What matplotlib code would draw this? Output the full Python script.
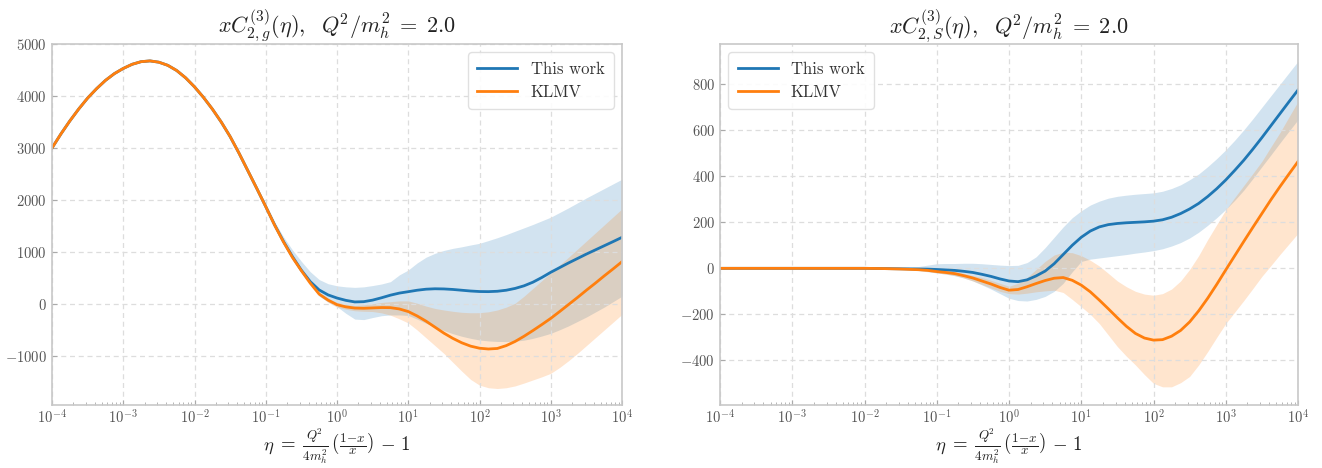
import numpy as np
import matplotlib
matplotlib.use("Agg")
import matplotlib.pyplot as plt
from matplotlib.ticker import FixedLocator, NullFormatter, LogFormatterSciNotation

plt.rcParams.update({
    "font.family": "serif",
    "font.serif": ["cmr10", "DejaVu Serif"],
    "mathtext.fontset": "cm",
    "axes.formatter.use_mathtext": True,
    "axes.unicode_minus": True,
})

# log10(eta) sample positions (every 1/8 decade)
log_eta = [-4.0, -3.875, -3.75, -3.625, -3.5, -3.375, -3.25, -3.125,
           -3.0, -2.875, -2.75, -2.625, -2.5, -2.375, -2.25, -2.125,
           -2.0, -1.875, -1.75, -1.625, -1.5, -1.375, -1.25, -1.125,
           -1.0, -0.875, -0.75, -0.625, -0.5, -0.375, -0.25, -0.125,
           0.0, 0.125, 0.25, 0.375, 0.5, 0.625, 0.75, 0.875,
           1.0, 1.125, 1.25, 1.375, 1.5, 1.625, 1.75, 1.875,
           2.0, 2.125, 2.25, 2.375, 2.5, 2.625, 2.75, 2.875,
           3.0, 3.125, 3.25, 3.375, 3.5, 3.625, 3.75, 3.875, 4.0]

# x tick decades
x_decades = [-4, -3, -2, -1, 0, 1, 2, 3, 4]

# ---- left panel: x C_{2,g}^{(3)} ----
g_this = [3000, 3270, 3520, 3750, 3960, 4140, 4300, 4430,
          4530, 4610, 4660, 4675, 4650, 4590, 4490, 4350,
          4176, 3975, 3750, 3500, 3220, 2900, 2560, 2220,
          1873, 1520, 1200, 910, 650, 430, 270, 175,
          115, 70, 40, 45, 75, 120, 170, 210,
          237, 265, 285, 293, 290, 280, 265, 250,
          240, 238, 245, 265, 300, 350, 420, 510,
          610, 700, 790, 875, 960, 1040, 1120, 1200, 1282]
g_this_lo = [2990, 3260, 3510, 3740, 3950, 4130, 4290, 4420,
             4520, 4600, 4650, 4665, 4640, 4580, 4480, 4340,
             4166, 3965, 3740, 3490, 3210, 2885, 2540, 2192,
             1835, 1470, 1140, 850, 600, 380, 150, 40,
             -50, -180, -290, -300, -260, -225, -210, -210,
             -220, -290, -370, -440, -510, -570, -620, -660,
             -692, -710, -720, -722, -715, -695, -660, -615,
             -564, -495, -420, -335, -250, -155, -60, 45, 150]
g_this_hi = [3010, 3280, 3530, 3760, 3970, 4150, 4310, 4440,
             4540, 4620, 4670, 4685, 4660, 4600, 4500, 4360,
             4186, 3985, 3760, 3510, 3230, 2915, 2580, 2250,
             1915, 1580, 1290, 1040, 820, 620, 470, 390,
             350, 330, 320, 330, 355, 385, 430, 560,
             654, 790, 900, 975, 1030, 1070, 1100, 1135,
             1167, 1220, 1275, 1335, 1400, 1465, 1530, 1600,
             1670, 1760, 1850, 1945, 2040, 2130, 2220, 2310, 2400]

g_klmv = [3000, 3270, 3520, 3750, 3960, 4140, 4300, 4430,
          4530, 4610, 4660, 4675, 4650, 4590, 4490, 4350,
          4176, 3975, 3750, 3500, 3220, 2900, 2560, 2220,
          1873, 1515, 1190, 895, 640, 400, 190, 75,
          -13, -55, -78, -82, -75, -68, -70, -95,
          -145, -230, -330, -445, -560, -660, -745, -810,
          -850, -865, -855, -800, -720, -620, -510, -395,
          -276, -145, -10, 125, 265, 400, 540, 675, 814]
g_klmv_lo = [2990, 3260, 3510, 3740, 3950, 4130, 4290, 4420,
             4520, 4600, 4650, 4665, 4640, 4580, 4480, 4340,
             4166, 3965, 3740, 3490, 3210, 2890, 2550, 2208,
             1860, 1500, 1173, 875, 620, 375, 165, 30,
             -60, -100, -130, -140, -145, -170, -215, -285,
             -365, -500, -650, -800, -950, -1120, -1290, -1450,
             -1560, -1610, -1625, -1610, -1575, -1520, -1460, -1400,
             -1333, -1220, -1090, -950, -800, -650, -500, -350, -200]
g_klmv_hi = [3010, 3280, 3530, 3760, 3970, 4150, 4310, 4440,
             4540, 4620, 4670, 4685, 4660, 4600, 4500, 4360,
             4186, 3985, 3760, 3510, 3230, 2910, 2570, 2232,
             1886, 1530, 1207, 915, 660, 425, 215, 110,
             30, -5, -30, -15, 5, 30, 45, 60,
             60, 15, -40, -85, -115, -140, -160, -168,
             -167, -150, -115, -60, 15, 150, 300, 450,
             600, 750, 900, 1055, 1210, 1365, 1520, 1675, 1830]

# ---- right panel: x C_{2,S}^{(3)} ----
s_this = [0, 0, 0, 0, 0, 0, 0, 0,
          0, 0, 0, 0, 0, 0, 0, 0,
          0, -0.5, -1, -1.5, -2, -2.5, -3, -3.5,
          -5, -7, -9, -13, -18, -26, -35, -46,
          -55, -58, -50, -33, -12, 20, 60, 100,
          135, 162, 180, 190, 195, 198, 200, 202,
          205, 211, 222, 238, 258, 282, 312, 346,
          384, 426, 470, 518, 568, 620, 672, 724, 775]
s_this_lo = [-1, -1, -1, -1, -1, -1, -1, -1,
             -1, -1, -1, -1, -1, -1, -1, -1,
             -1, -2, -2.5, -3, -4, -6, -10, -15,
             -20, -25, -32, -42, -55, -72, -90, -110,
             -130, -140, -142, -135, -122, -100, -65, -15,
             30, 40, 45, 50, 55, 60, 66, 71,
             77, 85, 97, 112, 132, 157, 187, 220,
             256, 296, 340, 390, 442, 493, 545, 596, 646]
s_this_hi = [1, 1, 1, 1, 1, 1, 1, 1,
             1, 1, 1, 1, 1, 1, 1, 1,
             1, 1.5, 2, 2.5, 3, 5, 8, 14,
             20, 21, 21, 22, 22, 20, 17, 14,
             12, 13, 25, 50, 90, 135, 180, 220,
             250, 275, 292, 305, 313, 318, 322, 325,
             328, 335, 347, 363, 385, 410, 442, 477,
             515, 557, 602, 650, 700, 750, 800, 850, 900]

s_klmv = [0, 0, 0, 0, 0, 0, 0, 0,
          0, 0, 0, 0, 0, 0, 0, 0,
          0, -0.5, -1, -2, -3, -4.5, -6, -9,
          -14, -18, -23, -32, -42, -55, -68, -83,
          -95, -92, -80, -66, -53, -43, -40, -52,
          -73, -102, -138, -176, -215, -252, -283, -303,
          -312, -310, -295, -270, -233, -185, -130, -70,
          -7, 55, 117, 178, 238, 298, 355, 410, 464]
s_klmv_lo = [-1, -1, -1, -1, -1, -1, -1, -1,
             -1, -1, -1, -1, -1, -1, -1, -1,
             -1, -1.5, -2, -3, -4, -6, -9, -13,
             -20, -25, -32, -42, -55, -70, -85, -100,
             -110, -112, -108, -102, -98, -95, -105, -135,
             -167, -200, -240, -290, -340, -382, -420, -462,
             -500, -515, -515, -497, -470, -420, -362, -300,
             -240, -190, -140, -88, -35, 12, 60, 106, 152]
s_klmv_hi = [1, 1, 1, 1, 1, 1, 1, 1,
             1, 1, 1, 1, 1, 1, 1, 1,
             1, 0.5, 0, -1, -2, -2.5, -3, -5,
             -8, -11, -14, -22, -32, -40, -52, -65,
             -78, -65, -40, -5, 30, 58, 70, 68,
             55, 35, 10, -22, -55, -80, -100, -112,
             -117, -110, -90, -55, -5, 55, 125, 190,
             254, 308, 360, 412, 465, 528, 590, 658, 725]

labels = ["This work", "KLMV"]
titles = [r"$xC^{(3)}_{2,g}(\eta),\ \ Q^{\!2}/m_h^2\;=\;2.0$",
          r"$xC^{(3)}_{2,S}(\eta),\ \ Q^{\!2}/m_h^2\;=\;2.0$"]
xlabel = r"$\eta\;=\;\frac{Q^{\!2}}{4m_h^2}\,\left(\frac{1\!-\!x}{x}\right)\,-\,1$"

eta = 10.0 ** np.array(log_eta)
major_x = [10.0 ** d for d in x_decades]
minor_x = [m * 10.0 ** d for d in x_decades[:-1] for m in range(2, 10)]

fig = plt.figure(figsize=(13.22, 4.68), dpi=100)
ax1 = fig.add_axes([52 / 1322, 1 - 405 / 468, 570 / 1322, 361 / 468])
ax2 = fig.add_axes([720 / 1322, 1 - 405 / 468, 578 / 1322, 361 / 468])

blue = "#1f77b4"
orange = "#ff7f0e"

panels = [
    (ax1, g_this, g_this_lo, g_this_hi, g_klmv, g_klmv_lo, g_klmv_hi,
     (-1942, 5000), [-1000, 0, 1000, 2000, 3000, 4000, 5000], "upper right"),
    (ax2, s_this, s_this_lo, s_this_hi, s_klmv, s_klmv_lo, s_klmv_hi,
     (-594, 975), [-400, -200, 0, 200, 400, 600, 800], "upper left"),
]

for ax, t, tlo, thi, k, klo, khi, ylim, yticks, loc in panels:
    ax.fill_between(eta, tlo, thi, color=blue, alpha=0.2, lw=0)
    ax.fill_between(eta, klo, khi, color=orange, alpha=0.2, lw=0)
    ax.plot(eta, t, color=blue, lw=2, label=labels[0])
    ax.plot(eta, k, color=orange, lw=2, label=labels[1])
    ax.set_xscale("log")
    ax.set_xlim(1e-4, 1e4)
    ax.set_ylim(*ylim)
    ax.set_yticks(yticks)
    ax.xaxis.set_major_locator(FixedLocator(major_x))
    ax.xaxis.set_major_formatter(LogFormatterSciNotation())
    ax.xaxis.set_minor_locator(FixedLocator(minor_x))
    ax.xaxis.set_minor_formatter(NullFormatter())
    ax.grid(True, which="major", ls=(0, (4, 3)), color="#dddddd", lw=0.9)
    ax.tick_params(which="both", direction="in", colors="#aaaaaa", labelcolor="#555555", labelsize=10.5)
    ax.tick_params(which="major", length=3.5)
    ax.tick_params(which="minor", length=2)
    ax.tick_params(axis="x", which="major", pad=3)
    for s in ax.spines.values():
        s.set_color("#c8c8c8")
        s.set_linewidth(1.2)
    ax.set_xlabel(xlabel, fontsize=13.5, color="#222222")
    ax.xaxis.set_label_coords(0.5, -0.115)
    ax.xaxis.label.set_va("center")
    leg = ax.legend(loc=loc, fontsize=12, framealpha=0.9, edgecolor="#dddddd", fancybox=True,
                    handlelength=2.4, borderpad=0.55, labelspacing=0.45)
    for txt in leg.get_texts():
        txt.set_color("#333333")

ax1.set_title(titles[0], fontsize=16, color="#222222", pad=6)
ax2.set_title(titles[1], fontsize=16, color="#222222", pad=6)

fig.savefig("out.png", dpi=100)
